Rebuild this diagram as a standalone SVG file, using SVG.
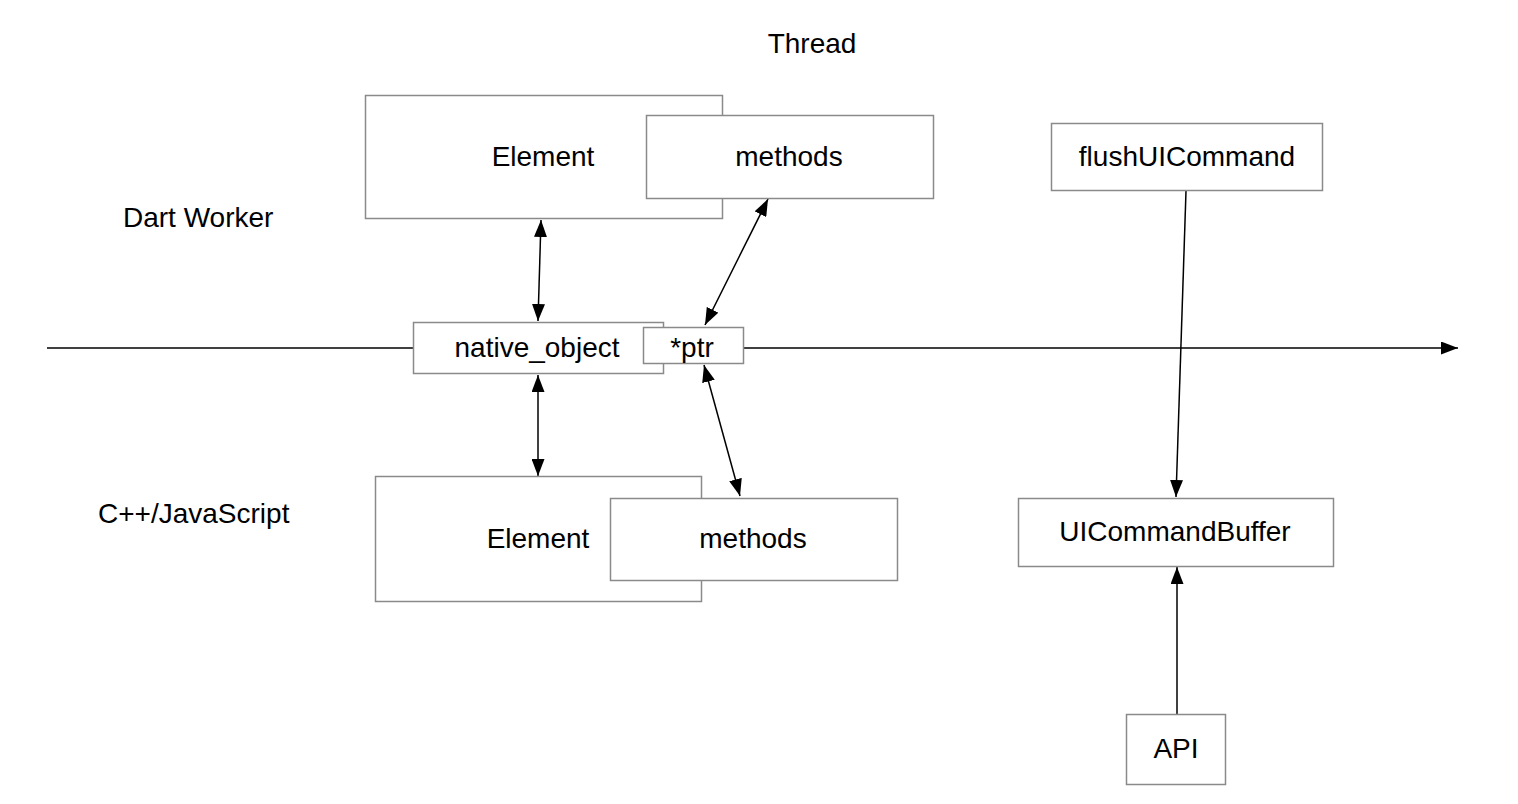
<svg xmlns="http://www.w3.org/2000/svg" width="1518" height="804" viewBox="0 0 1518 804">
<style>
.box{fill:#fff;stroke:#8a8a8a;stroke-width:1.5}
.t{font-family:"Liberation Sans",Arial,sans-serif;font-size:28px;fill:#000}
.c{text-anchor:middle}
.ln{stroke:#000;stroke-width:1.5;fill:none}
</style>
<defs>
<marker id="ah" viewBox="0 0 17 13" refX="17" refY="6.5" markerWidth="17" markerHeight="13" markerUnits="userSpaceOnUse" orient="auto-start-reverse">
<path d="M0,0 L17,6.5 L0,13 z" fill="#000"/>
</marker>
</defs>
<rect width="1518" height="804" fill="#fff"/>
<g id="labels">
<text class="t c" x="812" y="53">Thread</text>
<text class="t" x="123" y="227">Dart Worker</text>
<text class="t" x="98" y="523">C++/JavaScript</text>
</g>
<g id="connectors">
<line class="ln" x1="47" y1="348" x2="413" y2="348"/>
<line class="ln" x1="743" y1="348" x2="1458" y2="348" marker-end="url(#ah)"/>
<line class="ln" x1="541" y1="220" x2="538" y2="321" marker-start="url(#ah)" marker-end="url(#ah)"/>
<line class="ln" x1="768" y1="199" x2="705" y2="325" marker-start="url(#ah)" marker-end="url(#ah)"/>
<line class="ln" x1="538" y1="375" x2="538" y2="476" marker-start="url(#ah)" marker-end="url(#ah)"/>
<line class="ln" x1="704" y1="365" x2="740" y2="496" marker-start="url(#ah)" marker-end="url(#ah)"/>
<line class="ln" x1="1186" y1="191" x2="1176" y2="497" marker-end="url(#ah)"/>
<line class="ln" x1="1177" y1="714" x2="1177" y2="567" marker-end="url(#ah)"/>
</g>
<g id="element-top">
<rect class="box" x="365.5" y="95.5" width="357" height="123"/>
<text class="t c" x="543" y="166">Element</text>
</g>
<g id="methods-top">
<rect class="box" x="646.5" y="115.5" width="287" height="83"/>
<text class="t c" x="789" y="166">methods</text>
</g>
<g id="native-object">
<rect class="box" x="413.5" y="322.5" width="250" height="51"/>
<text class="t c" x="537" y="357">native_object</text>
</g>
<g id="ptr">
<rect class="box" x="643.5" y="327.5" width="100" height="36"/>
<text class="t c" x="692" y="357">*ptr</text>
</g>
<g id="element-bottom">
<rect class="box" x="375.5" y="476.5" width="326" height="125"/>
<text class="t c" x="538" y="548">Element</text>
</g>
<g id="methods-bottom">
<rect class="box" x="610.5" y="498.5" width="287" height="82"/>
<text class="t c" x="753" y="548">methods</text>
</g>
<g id="flush">
<rect class="box" x="1051.5" y="123.5" width="271" height="67"/>
<text class="t c" x="1187" y="166">flushUICommand</text>
</g>
<g id="buffer">
<rect class="box" x="1018.5" y="498.5" width="315" height="68"/>
<text class="t c" x="1175" y="541">UICommandBuffer</text>
</g>
<g id="api">
<rect class="box" x="1126.5" y="714.5" width="99" height="70"/>
<text class="t c" x="1176" y="758">API</text>
</g>
</svg>
